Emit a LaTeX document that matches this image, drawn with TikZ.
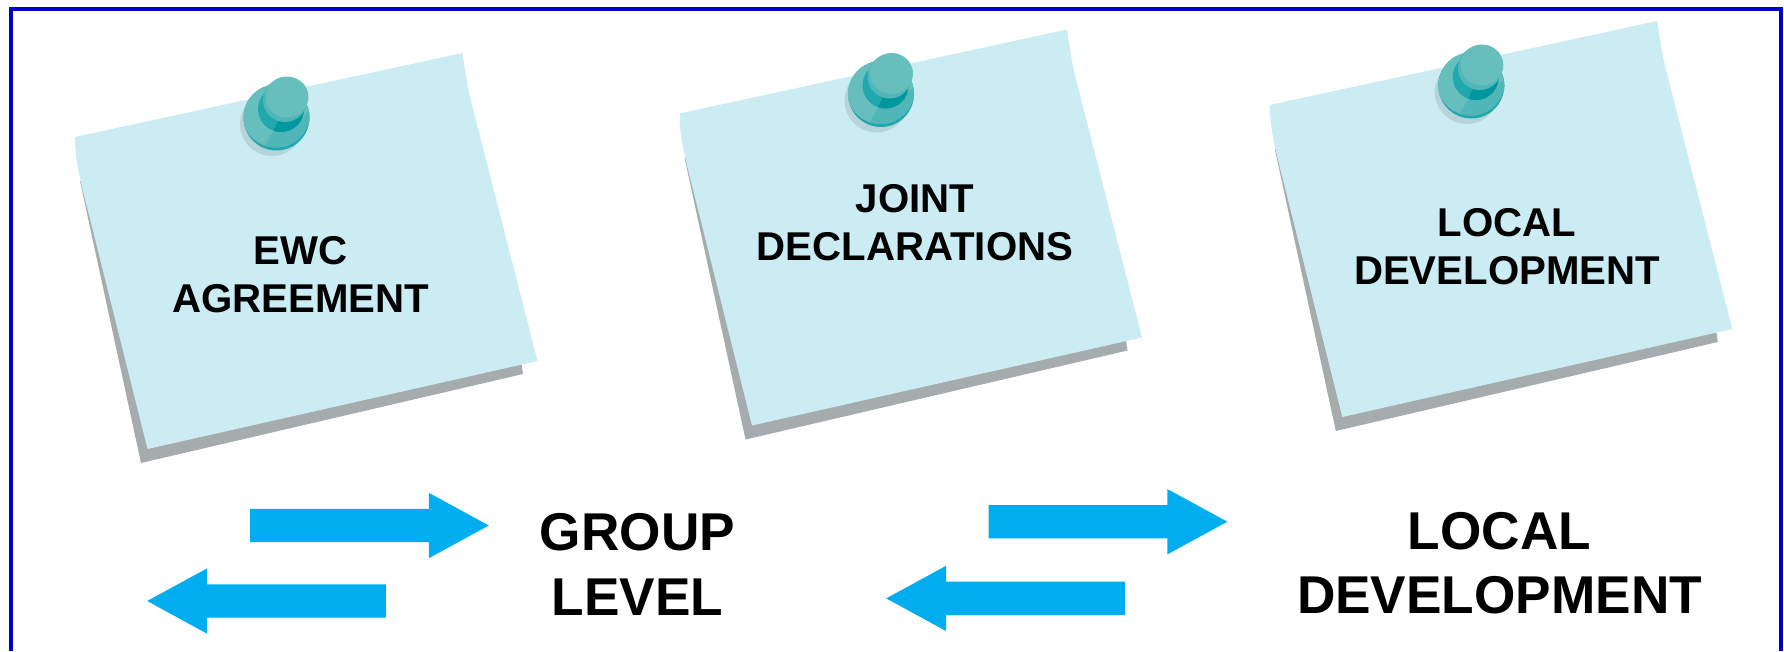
\documentclass[tikz,border=0pt]{standalone}
\usepackage{fontspec}
\setmainfont{Liberation Sans}
\usetikzlibrary{shapes.arrows}
\definecolor{paperblue}{HTML}{CBECF3}
\definecolor{papershadow}{HTML}{A6ABAD}
\definecolor{framecolor}{HTML}{0000CC}
\definecolor{arrowblue}{HTML}{00AEEF}
\definecolor{pinlight}{HTML}{66BFBD}
\definecolor{pinmid}{HTML}{50B6B7}
\definecolor{pinrim}{HTML}{20A8AC}
\definecolor{pindark}{HTML}{00979F}
\definecolor{pinshadow}{HTML}{B8D4DB}

\begin{document}
\begin{tikzpicture}[
 x=1pt,
 y=-1pt,
 notetext/.style={
  inner sep=0pt,
  align=center,
  font=\bfseries\fontsize{40.2}{48}\selectfont,
 },
 leveltext/.style={
  inner sep=0pt,
  align=center,
  font=\bfseries\fontsize{53.2}{64.5}\selectfont,
 },
 flow/.style={
  single arrow,
  fill=arrowblue,
  inner sep=0pt,
  text height=33pt,
  text depth=0pt,
  minimum height=238.6pt,
  single arrow head extend=16pt,
  single arrow tip angle=57.2,
  single arrow head indent=0pt,
  anchor=tail,
 },
 stickynote/.pic={
  \fill[papershadow] (80,181) -- (141,463) -- (523,374) -- (521,360) -- cycle;
  \fill[paperblue] (75,137) -- (462.5,53) .. controls (466,78) and (468,88) .. (470,97)
   -- (537.5,361) -- (147.5,449) -- (89,215) .. controls (80,180) and (75,160) .. cycle;
  \fill[pinshadow] (272,124) circle (32);
  \fill[pinrim] (276.5,117.5) circle (33);
  \begin{scope}
   \clip (276.5,117.5) circle (33);
   \clip (276,113.5) circle (34);
   \fill[pinlight] (240,80) rectangle (315,155);
   \fill[pinmid] (264,148) -- (273,132) -- (303,117) -- (315,105) -- (315,155) -- cycle;
  \end{scope}
  \fill[pinrim] (281,109) circle (23);
  \begin{scope}
   \clip (281,109) circle (23);
   \fill[pindark] (278,121) -- (272,134) -- (310,134) -- (310,105) -- cycle;
  \end{scope}
  \fill[pinmid] (285,100) ellipse (22 and 22);
  \fill[pinlight] (287,97) ellipse (21.5 and 20.5);
 },
]

\useasboundingbox (0,0) rectangle (1784,651);
\fill[white] (0,0) rectangle (1784,651);
\draw[framecolor,line width=3.6pt] (11,651) -- (11,9) -- (1781,9) -- (1781,651);

\pic at (0,0) {stickynote};
\pic at (604.5,-23.5) {stickynote};
\pic at (1194.8,-32) {stickynote};

\node at (300.7,275) [notetext] (ewc) {EWC\\AGREEMENT};
\node at (915,223) [notetext] (joint) {JOINT\\DECLARATIONS};
\node at (1507,247) [notetext] (local) {LOCAL\\DEVELOPMENT};

\node at (250,525.5) [flow] (groupup) {};
\node at (386,601) [flow,shape border rotate=180] (groupdown) {};
\node at (988.5,521.7) [flow] (localup) {};
\node at (1125,598.4) [flow,shape border rotate=180] (localdown) {};

\node at (637.5,564.5) [leveltext] (group) {GROUP\\LEVEL};
\node at (1499.5,563) [leveltext] (development) {LOCAL\\DEVELOPMENT};

\end{tikzpicture}
\end{document}
